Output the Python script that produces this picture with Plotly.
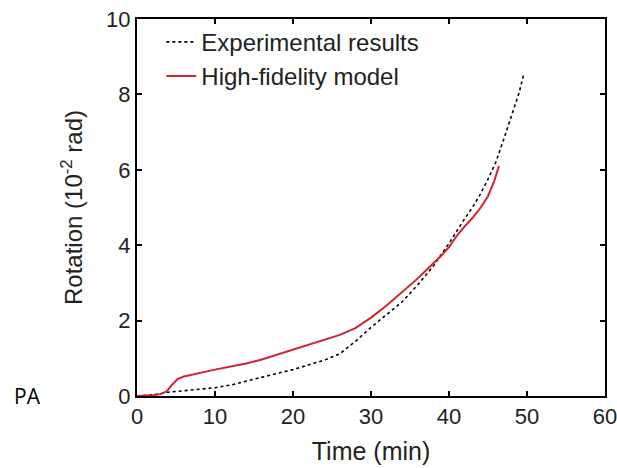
import plotly.graph_objects as go

exp_t = [0, 2, 4, 6, 8, 10, 12, 14, 16, 18, 20, 22, 24, 26, 28, 30, 32, 34, 36, 38, 40, 41, 42, 43, 44, 45, 46, 47, 48, 49, 49.6]
exp_r = [0, 0.03, 0.1, 0.14, 0.18, 0.22, 0.29, 0.4, 0.5, 0.6, 0.7, 0.82, 0.95, 1.12, 1.45, 1.82, 2.15, 2.5, 2.95, 3.45, 4.05, 4.38, 4.7, 5.0, 5.35, 5.75, 6.2, 6.8, 7.45, 8.05, 8.55]

mod_t = [0, 2, 3, 3.8, 4.5, 5.2, 6, 8, 10, 12, 14, 16, 18, 20, 22, 24, 26, 28, 30, 32, 34, 36, 38, 39, 40, 41, 42, 43, 44, 45, 45.8, 46.4]
mod_r = [0, 0.02, 0.05, 0.12, 0.3, 0.45, 0.52, 0.62, 0.7, 0.78, 0.86, 0.97, 1.1, 1.22, 1.34, 1.47, 1.62, 1.8, 2.08, 2.4, 2.75, 3.12, 3.52, 3.72, 3.95, 4.25, 4.5, 4.72, 4.98, 5.3, 5.7, 6.1]

FONT = "Liberation Sans, Arial"
fig = go.Figure()
fig.add_trace(go.Scatter(x=exp_t, y=exp_r, mode="lines", name="Experimental results",
                         line=dict(color="black", width=1.6, dash="dot")))
fig.add_trace(go.Scatter(x=mod_t, y=mod_r, mode="lines", name="High-fidelity model",
                         line=dict(color="#d2232f", width=2)))

axis_common = dict(showline=True, linecolor="black", linewidth=2, mirror="ticks",
                   ticks="inside", ticklen=5, tickwidth=1.5, tickcolor="black", showgrid=False, zeroline=False,
                   automargin=False, ticklabeloverflow="allow",
                   tickfont=dict(family=FONT, size=22, color="#222"))
fig.update_xaxes(range=[0, 60], dtick=10,
                 title=dict(text="Time (min)", font=dict(family=FONT, size=25, color="#222"), standoff=14),
                 **axis_common)
fig.update_yaxes(range=[0, 10], dtick=2,
                 title=dict(text="Rotation (10<sup>-2</sup> rad)", font=dict(family=FONT, size=24, color="#222"), standoff=17),
                 **axis_common)

fig.update_layout(
    width=617, height=468,
    margin=dict(l=137, r=12, t=19, b=72),
    plot_bgcolor="white", paper_bgcolor="white",
    legend=dict(x=0.052, y=0.998, xanchor="left", yanchor="top", bgcolor="rgba(0,0,0,0)",
                font=dict(family=FONT, size=24, color="#222"),
                tracegroupgap=0),
    annotations=[dict(text="PA", xref="paper", yref="paper", x=-0.267, y=0.0,
                      xanchor="left", yanchor="middle", showarrow=False,
                      font=dict(family="Open Sans", size=21, color="black"))],
)

fig.write_html("out.html")
